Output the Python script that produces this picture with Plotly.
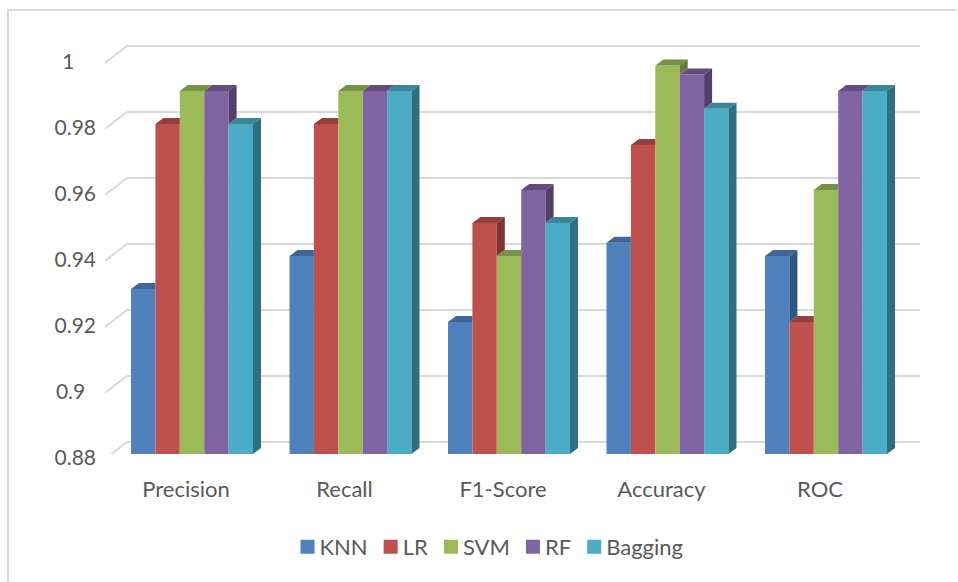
import plotly.graph_objects as go

# ---- data ----
CATEGORIES = ["Precision", "Recall", "F1-Score", "Accuracy", "ROC"]
KNN = [0.93, 0.94, 0.92, 0.944, 0.94]
LR = [0.98, 0.98, 0.95, 0.9736, 0.92]
SVM = [0.99, 0.99, 0.94, 0.9977, 0.96]
RF = [0.99, 0.99, 0.96, 0.995, 0.99]
BAGGING = [0.98, 0.99, 0.95, 0.9846, 0.99]
TICK_VALUES = [0.88, 0.9, 0.92, 0.94, 0.96, 0.98, 1.0]
TICK_LABELS = ["0.88", "0.9", "0.92", "0.94", "0.96", "0.98", "1"]

SERIES = [
    ("KNN", KNN, "#4F81BD", "#3E6797", "#2F5683"),
    ("LR", LR, "#C0504D", "#963E3C", "#7F3431"),
    ("SVM", SVM, "#9BBB59", "#789245", "#637A38"),
    ("RF", RF, "#8064A2", "#634D7E", "#533F6B"),
    ("Bagging", BAGGING, "#4BACC6", "#39869B", "#2E7083"),
]

# ---- layout constants (pixels in the 958x582 page) ----
W, H = 958, 582
PLOT_L, PLOT_B = 100, 454       # left edge of plot, pixel of axis minimum
GROUP0_PX, GROUP_PITCH = 192.0, 158.5
GROUP_W = 122.0
PX_PER_UNIT = 3300.0            # vertical pixels per value unit
Y_MIN = 0.88

def xd(px):
    return (px - GROUP0_PX) / GROUP_PITCH

def yd(px):
    return Y_MIN + (PLOT_B - px) / PX_PER_UNIT

DX = 8 / GROUP_PITCH
DY = 6 / PX_PER_UNIT
BAR_W = GROUP_W / GROUP_PITCH / len(SERIES)

fig = go.Figure()

# front faces
for name, vals, front, top, side in SERIES:
    fig.add_trace(go.Bar(
        x=list(range(len(CATEGORIES))), y=vals, name=name,
        marker=dict(color=front, line=dict(width=0)),
    ))

# depth faces: derived from the values, clipped where the next bar hides them
for k, (name, vals, front, top, side) in enumerate(SERIES):
    tx, ty, sx, sy = [], [], [], []
    next_vals = SERIES[k + 1][1] if k + 1 < len(SERIES) else [Y_MIN] * len(vals)
    for i, v in enumerate(vals):
        x0 = i - GROUP_W / GROUP_PITCH / 2 + k * BAR_W
        x1 = x0 + BAR_W
        nv = next_vals[i]
        if nv > v:
            tx += [x0, x1, x1, x0 + DX, x0, None]
            ty += [v, v, v + DY, v + DY, v, None]
        else:
            tx += [x0, x1, x1 + DX, x0 + DX, x0, None]
            ty += [v, v, v + DY, v + DY, v, None]
            sx += [x1, x1 + DX, x1 + DX, x1, x1, None]
            sy += [v, v + DY, nv + DY, nv, v, None]
    for xs, ys, col in ((tx, ty, top), (sx, sy, side)):
        if xs:
            fig.add_trace(go.Scatter(
                x=xs, y=ys, mode="lines", fill="toself", fillcolor=col,
                line=dict(width=0, color=col), showlegend=False, hoverinfo="skip",
            ))

# gridlines on the floor edge and back wall
shapes = []
for t in TICK_VALUES:
    ypx = PLOT_B - (t - Y_MIN) * PX_PER_UNIT
    path = f"M {xd(105)},{yd(ypx + 5)} L {xd(127)},{yd(ypx - 12)} L {xd(920)},{yd(ypx - 12)}"
    shapes.append(dict(type="path", path=path, xref="x", yref="y", layer="below",
                       line=dict(color="#D9D9D9", width=2)))

# chart frame: only the top and left edges show
plot_w, plot_h = W - PLOT_L, PLOT_B
def xp(px):
    return (px - PLOT_L) / plot_w
def yp(px):
    return (PLOT_B - px) / plot_h
shapes.append(dict(type="path", xref="paper", yref="paper", layer="below",
                   path=f"M {xp(8)},{yp(584)} L {xp(8)},{yp(10)} L {xp(957)},{yp(10)}",
                   line=dict(color="#D9D9D9", width=2)))

FAMILY = "Lato, Carlito, sans-serif"
TEXT = dict(family=FAMILY, size=22, color="#595959")
YTEXT = dict(family=FAMILY, size=21, color="#595959")

def pad(lbl):
    return lbl + "\u00a0" * {1: 4, 3: 2}.get(len(lbl), 0)

fig.update_layout(
    width=W, height=H, autosize=False,
    margin=dict(l=PLOT_L, r=0, t=0, b=H - PLOT_B, pad=0),
    paper_bgcolor="white", plot_bgcolor="rgba(0,0,0,0)",
    barmode="group", bargap=1 - GROUP_W / GROUP_PITCH, bargroupgap=0,
    shapes=shapes, font=TEXT,
    xaxis=dict(range=[xd(PLOT_L), xd(W)], tickmode="array",
               tickvals=list(range(len(CATEGORIES))), ticktext=CATEGORIES,
               showgrid=False, zeroline=False, showline=False, ticks="",
               ticklabelstandoff=20, ticklabelshift=-6, tickfont=TEXT),
    yaxis=dict(range=[Y_MIN, yd(0)], tickmode="array",
               tickvals=TICK_VALUES, ticktext=[pad(t) for t in TICK_LABELS],
               showgrid=False, zeroline=False, showline=False, ticks="",
               ticklabelstandoff=3, ticklabelshift=4, tickfont=YTEXT),
    legend=dict(orientation="h", x=xp(489), xanchor="center",
                y=yp(547), yanchor="middle", font=TEXT, itemwidth=30,
                indentation=-10, bgcolor="rgba(0,0,0,0)"),
)

POST = """
document.body.style.margin = '0';
document.querySelectorAll('.legend .legendsymbols').forEach(function (g) {
    g.setAttribute('transform', 'translate(8,0)');
});
document.querySelectorAll('.legend .legendpoints path').forEach(function (p) {
    p.setAttribute('d', 'M7,7H-7V-7H7Z');
});
"""
fig.write_html("out.html", config={"displayModeBar": False}, post_script=POST)
